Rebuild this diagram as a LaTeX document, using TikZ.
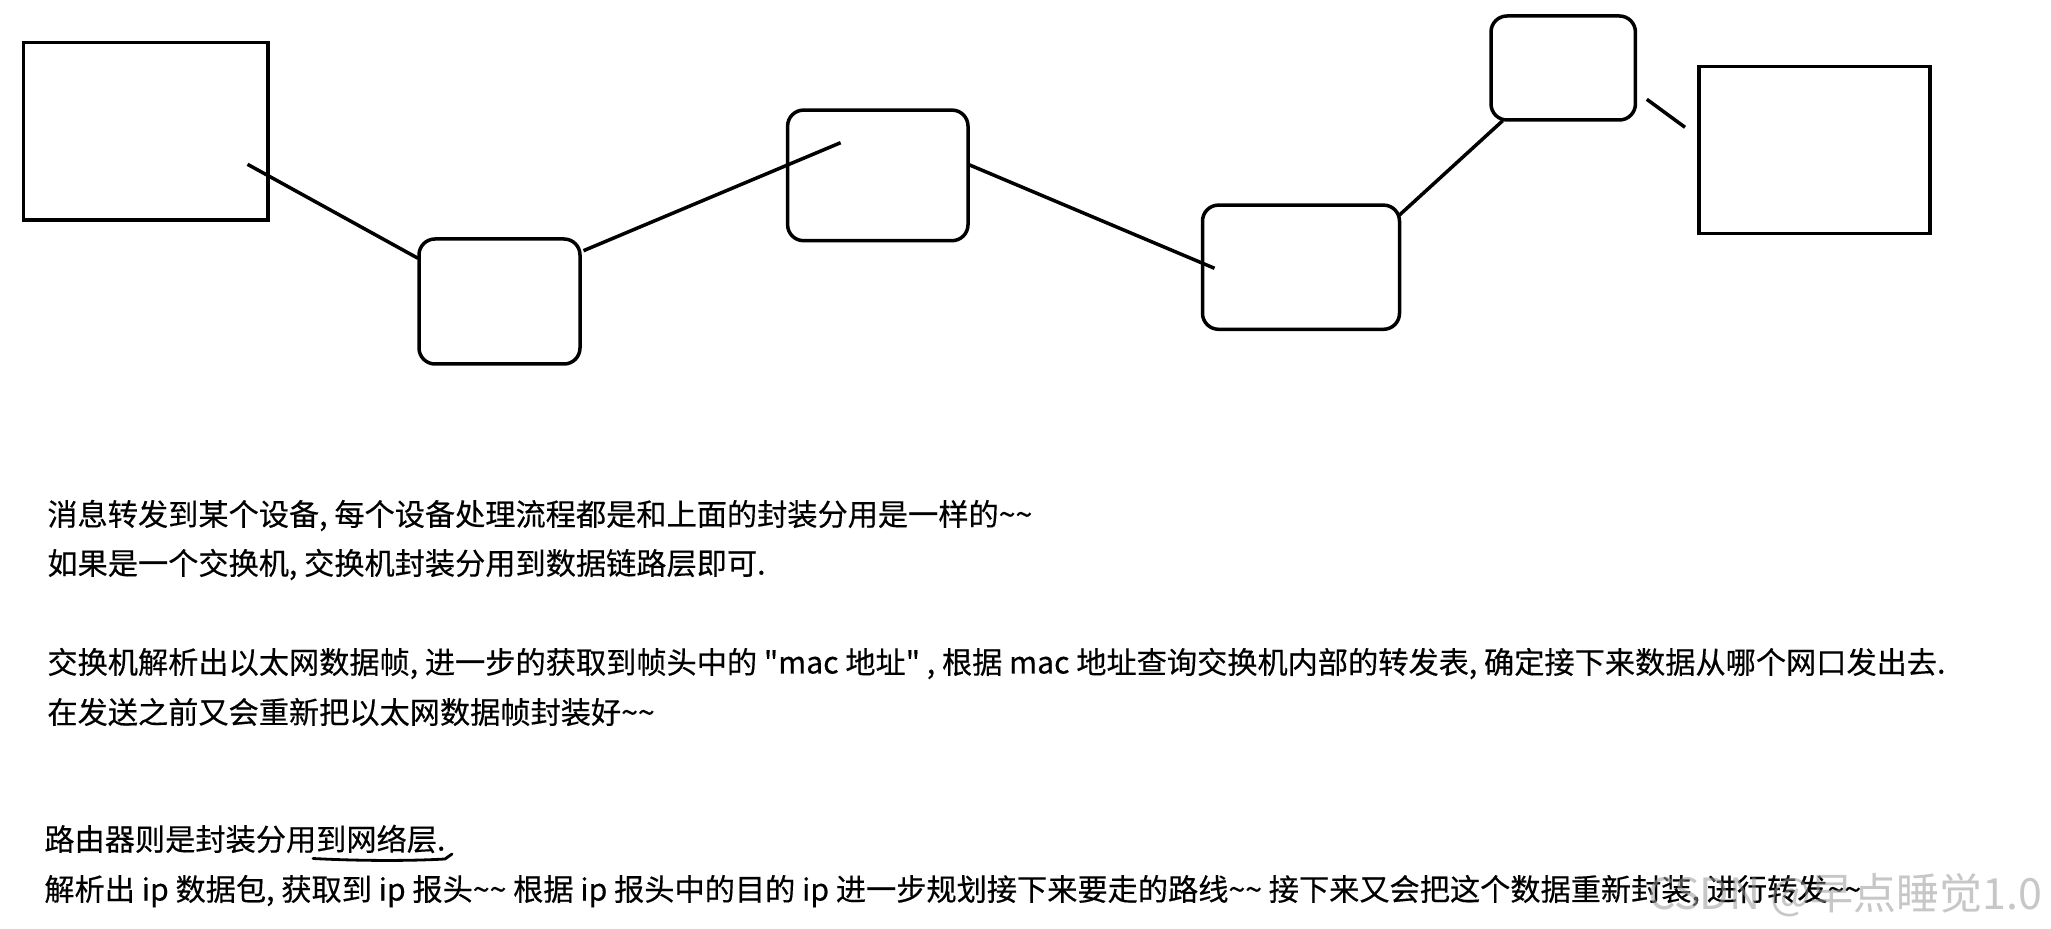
\documentclass[tikz,border=0pt]{standalone}
\usepackage{fontspec}
\setmainfont{Noto Sans CJK SC}
\newfontfamily\cjk[FakeBold=0.35]{Noto Sans CJK SC}
\newfontfamily\wmfont{Noto Sans CJK SC}
\newcommand\tld{\textasciitilde}
\begin{document}
\begin{tikzpicture}[x=0.5pt,y=-0.5pt,
  box/.style={draw, line width=1.75pt, inner sep=0pt, outer sep=0pt},
  rbox/.style={box, rounded corners=8pt},
  link/.style={line width=1.75pt},
  txt/.style={anchor=base west, inner sep=0pt, font=\cjk\fontsize{15.1pt}{18pt}\selectfont},
  wm/.style={anchor=base east, inner sep=0pt, text=black!40, opacity=0.55, font=\wmfont\fontsize{21.5pt}{25pt}\selectfont}]
\useasboundingbox[fill=white] (0,0) rectangle (2051,929);
% devices
\node[box,  minimum width=122.2pt, minimum height=88.6pt] (b1) at (145.8,131.3) {};
\node[rbox, minimum width=80.5pt,  minimum height=62.5pt] (b2) at (499.5,301.5) {};
\node[rbox, minimum width=90.2pt,  minimum height=65.3pt] (b3) at (877.8,175.4) {};
\node[rbox, minimum width=98.5pt,  minimum height=62.1pt] (b4) at (1301,267.2) {};
\node[rbox, minimum width=72.2pt,  minimum height=52pt]   (b5) at (1563.2,68) {};
\node[box,  minimum width=115.5pt, minimum height=83.3pt] (b6) at (1814.5,150) {};
% connector end points
\coordinate (p1) at (247.5,164.3);
\coordinate (p2) at (418,258.3);
\coordinate (p3) at (583.5,250.7);
\coordinate (p4) at (840.6,142.7);
\coordinate (p5) at (968,164.3);
\coordinate (p6) at (1214.5,268.3);
\coordinate (p7) at (1399.5,215);
\coordinate (p8) at (1502.7,120.7);
\coordinate (p9) at (1646.8,99.3);
\coordinate (p10) at (1685,127.3);
\draw[link] (p1) -- (p2);
\draw[link] (p3) -- (p4);
\draw[link] (p5) -- (p6);
\draw[link] (p7) -- (p8);
\draw[link] (p9) -- (p10);
% text
\node[txt] (t1) at (47,525.5) {消息转发到某个设备, 每个设备处理流程都是和上面的封装分用是一样的\tld\tld};
\node[txt] (t2) at (47,574.5) {如果是一个交换机, 交换机封装分用到数据链路层即可.};
\node[txt] (t3) at (47,673.5) {交换机解析出以太网数据帧, 进一步的获取到帧头中的 "mac 地址" , 根据 mac 地址查询交换机内部的转发表, 确定接下来数据从哪个网口发出去.};
\node[txt] (t4) at (47,723.5) {在发送之前又会重新把以太网数据帧封装好\tld\tld};
\node[txt] (t5) at (44,850.5) {路由器则是封装分用到网络层.};
\node[txt] (t6) at (44,900.5) {解析出 ip 数据包, 获取到 ip 报头\tld\tld{} 根据 ip 报头中的目的 ip 进一步规划接下来要走的路线\tld\tld{} 接下来又会把这个数据重新封装, 进行转发\tld\tld};
% hand-drawn underline
\coordinate (u1) at (313,858.5);
\coordinate (u2) at (445,859);
\coordinate (u3) at (452,854);
\draw[line width=1.4pt, line cap=round] (u1) .. controls (360,861) and (410,861) .. (u2) -- (u3);
% watermark
\node[wm] (w) at (2043,909) {CSDN @早点睡觉1.0};
\end{tikzpicture}
\end{document}
